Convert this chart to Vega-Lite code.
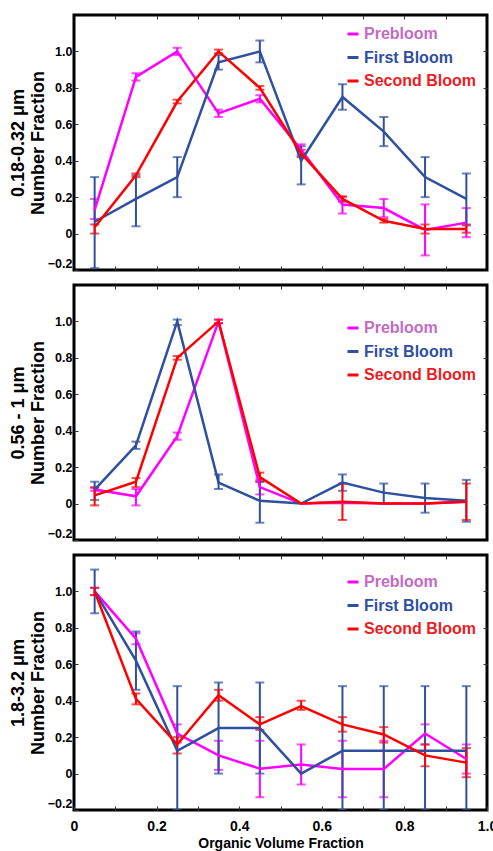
{
  "$schema": "https://vega.github.io/schema/vega-lite/v6.json",
  "background": "white",
  "padding": {"left": 7, "top": 13, "right": 0, "bottom": 0},
  "spacing": 11,
  "datasets": {
    "d": [
      {"p":1,"s":"Prebloom","x":0.05,"y":0.13,"lo":0.08,"hi":0.19},
      {"p":1,"s":"Prebloom","x":0.15,"y":0.86,"lo":0.84,"hi":0.88},
      {"p":1,"s":"Prebloom","x":0.25,"y":1.0,"lo":0.98,"hi":1.02},
      {"p":1,"s":"Prebloom","x":0.35,"y":0.66,"lo":0.64,"hi":0.68},
      {"p":1,"s":"Prebloom","x":0.45,"y":0.74,"lo":0.72,"hi":0.76},
      {"p":1,"s":"Prebloom","x":0.55,"y":0.46,"lo":0.43,"hi":0.49},
      {"p":1,"s":"Prebloom","x":0.65,"y":0.16,"lo":0.11,"hi":0.2},
      {"p":1,"s":"Prebloom","x":0.75,"y":0.14,"lo":0.09,"hi":0.19},
      {"p":1,"s":"Prebloom","x":0.85,"y":0.02,"lo":-0.12,"hi":0.16},
      {"p":1,"s":"Prebloom","x":0.95,"y":0.06,"lo":-0.02,"hi":0.14},
      {"p":1,"s":"First Bloom","x":0.05,"y":0.065,"lo":-0.19,"hi":0.31},
      {"p":1,"s":"First Bloom","x":0.15,"y":0.19,"lo":0.04,"hi":0.32},
      {"p":1,"s":"First Bloom","x":0.25,"y":0.31,"lo":0.2,"hi":0.42},
      {"p":1,"s":"First Bloom","x":0.35,"y":0.94,"lo":0.9,"hi":0.98},
      {"p":1,"s":"First Bloom","x":0.45,"y":1.0,"lo":0.94,"hi":1.06},
      {"p":1,"s":"First Bloom","x":0.55,"y":0.4,"lo":0.27,"hi":0.48},
      {"p":1,"s":"First Bloom","x":0.65,"y":0.75,"lo":0.68,"hi":0.82},
      {"p":1,"s":"First Bloom","x":0.75,"y":0.56,"lo":0.48,"hi":0.64},
      {"p":1,"s":"First Bloom","x":0.85,"y":0.31,"lo":0.2,"hi":0.42},
      {"p":1,"s":"First Bloom","x":0.95,"y":0.19,"lo":0.05,"hi":0.33},
      {"p":1,"s":"Second Bloom","x":0.05,"y":0.035,"lo":0.0,"hi":0.05},
      {"p":1,"s":"Second Bloom","x":0.15,"y":0.32,"lo":0.31,"hi":0.33},
      {"p":1,"s":"Second Bloom","x":0.25,"y":0.725,"lo":0.715,"hi":0.735},
      {"p":1,"s":"Second Bloom","x":0.35,"y":1.0,"lo":0.99,"hi":1.01},
      {"p":1,"s":"Second Bloom","x":0.45,"y":0.8,"lo":0.79,"hi":0.81},
      {"p":1,"s":"Second Bloom","x":0.55,"y":0.44,"lo":0.42,"hi":0.46},
      {"p":1,"s":"Second Bloom","x":0.65,"y":0.19,"lo":0.175,"hi":0.205},
      {"p":1,"s":"Second Bloom","x":0.75,"y":0.07,"lo":0.06,"hi":0.08},
      {"p":1,"s":"Second Bloom","x":0.85,"y":0.025,"lo":0.0,"hi":0.05},
      {"p":1,"s":"Second Bloom","x":0.95,"y":0.025,"lo":0.005,"hi":0.045},

      {"p":2,"s":"Prebloom","x":0.05,"y":0.077,"lo":0.07,"hi":0.085},
      {"p":2,"s":"Prebloom","x":0.15,"y":0.04,"lo":-0.01,"hi":0.08},
      {"p":2,"s":"Prebloom","x":0.25,"y":0.37,"lo":0.35,"hi":0.39},
      {"p":2,"s":"Prebloom","x":0.35,"y":1.0,"lo":0.99,"hi":1.01},
      {"p":2,"s":"Prebloom","x":0.45,"y":0.09,"lo":0.05,"hi":0.13},
      {"p":2,"s":"Prebloom","x":0.55,"y":0.0,"lo":null,"hi":null},
      {"p":2,"s":"Prebloom","x":0.65,"y":0.005,"lo":null,"hi":null},
      {"p":2,"s":"Prebloom","x":0.75,"y":0.0,"lo":null,"hi":null},
      {"p":2,"s":"Prebloom","x":0.85,"y":0.0,"lo":null,"hi":null},
      {"p":2,"s":"Prebloom","x":0.95,"y":0.01,"lo":null,"hi":null},
      {"p":2,"s":"First Bloom","x":0.05,"y":0.077,"lo":0.02,"hi":0.12},
      {"p":2,"s":"First Bloom","x":0.15,"y":0.32,"lo":0.3,"hi":0.34},
      {"p":2,"s":"First Bloom","x":0.25,"y":1.0,"lo":0.98,"hi":1.01},
      {"p":2,"s":"First Bloom","x":0.35,"y":0.115,"lo":0.08,"hi":0.16},
      {"p":2,"s":"First Bloom","x":0.45,"y":0.015,"lo":-0.105,"hi":0.12},
      {"p":2,"s":"First Bloom","x":0.55,"y":0.0,"lo":null,"hi":null},
      {"p":2,"s":"First Bloom","x":0.65,"y":0.115,"lo":0.07,"hi":0.16},
      {"p":2,"s":"First Bloom","x":0.75,"y":0.06,"lo":0.0,"hi":0.11},
      {"p":2,"s":"First Bloom","x":0.85,"y":0.03,"lo":-0.05,"hi":0.11},
      {"p":2,"s":"First Bloom","x":0.95,"y":0.015,"lo":-0.1,"hi":0.13},
      {"p":2,"s":"Second Bloom","x":0.05,"y":0.045,"lo":-0.01,"hi":0.09},
      {"p":2,"s":"Second Bloom","x":0.15,"y":0.12,"lo":0.09,"hi":0.14},
      {"p":2,"s":"Second Bloom","x":0.25,"y":0.8,"lo":0.79,"hi":0.81},
      {"p":2,"s":"Second Bloom","x":0.35,"y":1.0,"lo":0.99,"hi":1.01},
      {"p":2,"s":"Second Bloom","x":0.45,"y":0.145,"lo":0.12,"hi":0.17},
      {"p":2,"s":"Second Bloom","x":0.55,"y":0.0,"lo":null,"hi":null},
      {"p":2,"s":"Second Bloom","x":0.65,"y":0.01,"lo":-0.09,"hi":0.11},
      {"p":2,"s":"Second Bloom","x":0.75,"y":0.0,"lo":null,"hi":null},
      {"p":2,"s":"Second Bloom","x":0.85,"y":0.0,"lo":null,"hi":null},
      {"p":2,"s":"Second Bloom","x":0.95,"y":0.01,"lo":-0.09,"hi":0.11},

      {"p":3,"s":"Prebloom","x":0.05,"y":1.0,"lo":0.98,"hi":1.02},
      {"p":3,"s":"Prebloom","x":0.15,"y":0.74,"lo":0.71,"hi":0.77},
      {"p":3,"s":"Prebloom","x":0.25,"y":0.22,"lo":0.17,"hi":0.27},
      {"p":3,"s":"Prebloom","x":0.35,"y":0.1,"lo":0.02,"hi":0.18},
      {"p":3,"s":"Prebloom","x":0.45,"y":0.027,"lo":-0.13,"hi":0.18},
      {"p":3,"s":"Prebloom","x":0.55,"y":0.05,"lo":-0.06,"hi":0.16},
      {"p":3,"s":"Prebloom","x":0.65,"y":0.025,"lo":-0.13,"hi":0.18},
      {"p":3,"s":"Prebloom","x":0.75,"y":0.025,"lo":-0.13,"hi":0.18},
      {"p":3,"s":"Prebloom","x":0.85,"y":0.22,"lo":0.16,"hi":0.27},
      {"p":3,"s":"Prebloom","x":0.95,"y":0.08,"lo":0.0,"hi":0.16},
      {"p":3,"s":"First Bloom","x":0.05,"y":1.0,"lo":0.88,"hi":1.12},
      {"p":3,"s":"First Bloom","x":0.15,"y":0.62,"lo":0.46,"hi":0.78},
      {"p":3,"s":"First Bloom","x":0.25,"y":0.125,"lo":-0.2,"hi":0.48},
      {"p":3,"s":"First Bloom","x":0.35,"y":0.25,"lo":0.0,"hi":0.5},
      {"p":3,"s":"First Bloom","x":0.45,"y":0.25,"lo":0.0,"hi":0.5},
      {"p":3,"s":"First Bloom","x":0.55,"y":0.0,"lo":null,"hi":null},
      {"p":3,"s":"First Bloom","x":0.65,"y":0.125,"lo":-0.2,"hi":0.48},
      {"p":3,"s":"First Bloom","x":0.75,"y":0.125,"lo":-0.2,"hi":0.48},
      {"p":3,"s":"First Bloom","x":0.85,"y":0.125,"lo":-0.2,"hi":0.48},
      {"p":3,"s":"First Bloom","x":0.95,"y":0.125,"lo":-0.2,"hi":0.48},
      {"p":3,"s":"Second Bloom","x":0.05,"y":1.0,"lo":0.98,"hi":1.02},
      {"p":3,"s":"Second Bloom","x":0.15,"y":0.41,"lo":0.38,"hi":0.44},
      {"p":3,"s":"Second Bloom","x":0.25,"y":0.16,"lo":0.11,"hi":0.2},
      {"p":3,"s":"Second Bloom","x":0.35,"y":0.43,"lo":0.4,"hi":0.46},
      {"p":3,"s":"Second Bloom","x":0.45,"y":0.27,"lo":0.24,"hi":0.31},
      {"p":3,"s":"Second Bloom","x":0.55,"y":0.37,"lo":0.35,"hi":0.4},
      {"p":3,"s":"Second Bloom","x":0.65,"y":0.27,"lo":0.23,"hi":0.31},
      {"p":3,"s":"Second Bloom","x":0.75,"y":0.215,"lo":0.17,"hi":0.255},
      {"p":3,"s":"Second Bloom","x":0.85,"y":0.1,"lo":0.04,"hi":0.16},
      {"p":3,"s":"Second Bloom","x":0.95,"y":0.06,"lo":-0.02,"hi":0.14}
    ]
  },
  "resolve": {"legend": {"color": "independent"}},
  "vconcat": [
    {
      "width": 413, "height": 255,
      "data": {"name": "d"},
      "transform": [{"filter": "datum.p == 1"}],
      "layer": [
        {
          "mark": {"type": "errorbar", "ticks": true, "size": 9, "thickness": 2, "clip": true},
          "encoding": {
            "x": {"field": "x", "type": "quantitative", "scale": {"domain": [0, 1], "nice": false}, "axis": {"orient": "bottom", "values": [0.1,0.2,0.3,0.4,0.5,0.6,0.7,0.8,0.9], "labels": false, "title": null}},
            "y": {"field": "lo", "type": "quantitative", "scale": {"domain": [-0.2, 1.2], "nice": false, "zero": false}, "axis": {"orient": "left", "values": [-0.2,0,0.2,0.4,0.6,0.8,1.0], "labelExpr": "datum.value == 0 ? '0' : format(datum.value, '.1f')", "title": ["0.18-0.32 μm", "Number Fraction"]}},
            "y2": {"field": "hi"},
            "color": {"field": "s", "type": "nominal", "scale": {"domain": ["Prebloom", "First Bloom", "Second Bloom"], "range": ["#ff00ff", "#2f4f9f", "#ff0000"]},
              "legend": {"orient": "none", "legendX": 271, "legendY": 11, "title": null, "symbolType": "stroke", "symbolSize": 121, "symbolStrokeWidth": 3, "labelFont": "Liberation Sans", "labelFontSize": 16, "labelFontWeight": "bold", "rowPadding": 7.5, "labelOffset": 3, "labelLimit": 300,
                "encode": {"labels": {"update": {"fill": {"signal": "datum.value === 'Prebloom' ? '#c46ac4' : datum.value === 'First Bloom' ? '#2f4f9f' : '#ee1c24'"}}}}}}
          }
        },
        {
          "mark": {"type": "line", "strokeWidth": 2.5},
          "encoding": {
            "x": {"field": "x", "type": "quantitative", "scale": {"domain": [0, 1], "nice": false}, "axis": {"orient": "top", "values": [0.1,0.2,0.3,0.4,0.5,0.6,0.7,0.8,0.9], "labels": false, "title": null}},
            "y": {"field": "y", "type": "quantitative", "scale": {"domain": [-0.2, 1.2], "nice": false, "zero": false}, "axis": {"orient": "right", "values": [0,0.2,0.4,0.6,0.8,1.0], "labels": false, "title": null}},
            "color": {"field": "s", "type": "nominal", "scale": {"domain": ["Prebloom", "First Bloom", "Second Bloom"], "range": ["#ff00ff", "#2f4f9f", "#ff0000"]},
              "legend": {"orient": "none", "legendX": 271, "legendY": 11, "title": null, "symbolType": "stroke", "symbolSize": 121, "symbolStrokeWidth": 3, "labelFont": "Liberation Sans", "labelFontSize": 16, "labelFontWeight": "bold", "rowPadding": 7.5, "labelOffset": 3, "labelLimit": 300,
                "encode": {"labels": {"update": {"fill": {"signal": "datum.value === 'Prebloom' ? '#c46ac4' : datum.value === 'First Bloom' ? '#2f4f9f' : '#ee1c24'"}}}}}}
          }
        }
      ]
    },
    {
      "width": 413, "height": 255,
      "data": {"name": "d"},
      "transform": [{"filter": "datum.p == 2"}],
      "layer": [
        {
          "mark": {"type": "errorbar", "ticks": true, "size": 9, "thickness": 2, "clip": true},
          "encoding": {
            "x": {"field": "x", "type": "quantitative", "scale": {"domain": [0, 1], "nice": false}, "axis": {"orient": "bottom", "values": [0.1,0.2,0.3,0.4,0.5,0.6,0.7,0.8,0.9], "labels": false, "title": null}},
            "y": {"field": "lo", "type": "quantitative", "scale": {"domain": [-0.2, 1.2], "nice": false, "zero": false}, "axis": {"orient": "left", "values": [-0.2,0,0.2,0.4,0.6,0.8,1.0], "labelExpr": "datum.value == 0 ? '0' : format(datum.value, '.1f')", "title": ["0.56 - 1 μm", "Number Fraction"]}},
            "y2": {"field": "hi"},
            "color": {"field": "s", "type": "nominal", "scale": {"domain": ["Prebloom", "First Bloom", "Second Bloom"], "range": ["#ff00ff", "#2f4f9f", "#ff0000"]},
              "legend": {"orient": "none", "legendX": 271, "legendY": 35, "title": null, "symbolType": "stroke", "symbolSize": 121, "symbolStrokeWidth": 3, "labelFont": "Liberation Sans", "labelFontSize": 16, "labelFontWeight": "bold", "rowPadding": 7.5, "labelOffset": 3, "labelLimit": 300,
                "encode": {"labels": {"update": {"fill": {"signal": "datum.value === 'Prebloom' ? '#c46ac4' : datum.value === 'First Bloom' ? '#2f4f9f' : '#ee1c24'"}}}}}}
          }
        },
        {
          "mark": {"type": "line", "strokeWidth": 2.5},
          "encoding": {
            "x": {"field": "x", "type": "quantitative", "scale": {"domain": [0, 1], "nice": false}, "axis": {"orient": "top", "values": [0.1,0.2,0.3,0.4,0.5,0.6,0.7,0.8,0.9], "labels": false, "title": null}},
            "y": {"field": "y", "type": "quantitative", "scale": {"domain": [-0.2, 1.2], "nice": false, "zero": false}, "axis": {"orient": "right", "values": [0,0.2,0.4,0.6,0.8,1.0], "labels": false, "title": null}},
            "color": {"field": "s", "type": "nominal", "scale": {"domain": ["Prebloom", "First Bloom", "Second Bloom"], "range": ["#ff00ff", "#2f4f9f", "#ff0000"]},
              "legend": {"orient": "none", "legendX": 271, "legendY": 35, "title": null, "symbolType": "stroke", "symbolSize": 121, "symbolStrokeWidth": 3, "labelFont": "Liberation Sans", "labelFontSize": 16, "labelFontWeight": "bold", "rowPadding": 7.5, "labelOffset": 3, "labelLimit": 300,
                "encode": {"labels": {"update": {"fill": {"signal": "datum.value === 'Prebloom' ? '#c46ac4' : datum.value === 'First Bloom' ? '#2f4f9f' : '#ee1c24'"}}}}}}
          }
        }
      ]
    },
    {
      "width": 413, "height": 255,
      "data": {"name": "d"},
      "transform": [{"filter": "datum.p == 3"}],
      "layer": [
        {
          "mark": {"type": "errorbar", "ticks": true, "size": 9, "thickness": 2, "clip": true},
          "encoding": {
            "x": {"field": "x", "type": "quantitative", "scale": {"domain": [0, 1], "nice": false}, "axis": {"orient": "bottom", "values": [0,0.1,0.2,0.3,0.4,0.5,0.6,0.7,0.8,0.9,1.0], "labelExpr": "round(datum.value * 10) % 2 == 0 ? (datum.value == 0 ? '0' : format(datum.value, '.1f')) : ''", "labelFontSize": 14, "labelPadding": 13, "title": "Organic Volume Fraction", "titleFontSize": 14, "titlePadding": 3}},
            "y": {"field": "lo", "type": "quantitative", "scale": {"domain": [-0.2, 1.2], "nice": false, "zero": false}, "axis": {"orient": "left", "values": [-0.2,0,0.2,0.4,0.6,0.8,1.0], "labelExpr": "datum.value == 0 ? '0' : format(datum.value, '.1f')", "title": ["1.8-3.2 μm", "Number Fraction"]}},
            "y2": {"field": "hi"},
            "color": {"field": "s", "type": "nominal", "scale": {"domain": ["Prebloom", "First Bloom", "Second Bloom"], "range": ["#ff00ff", "#2f4f9f", "#ff0000"]},
              "legend": {"orient": "none", "legendX": 271, "legendY": 19, "title": null, "symbolType": "stroke", "symbolSize": 121, "symbolStrokeWidth": 3, "labelFont": "Liberation Sans", "labelFontSize": 16, "labelFontWeight": "bold", "rowPadding": 7.5, "labelOffset": 3, "labelLimit": 300,
                "encode": {"labels": {"update": {"fill": {"signal": "datum.value === 'Prebloom' ? '#c46ac4' : datum.value === 'First Bloom' ? '#2f4f9f' : '#ee1c24'"}}}}}}
          }
        },
        {
          "mark": {"type": "line", "strokeWidth": 2.5},
          "encoding": {
            "x": {"field": "x", "type": "quantitative", "scale": {"domain": [0, 1], "nice": false}, "axis": {"orient": "top", "values": [0.1,0.2,0.3,0.4,0.5,0.6,0.7,0.8,0.9], "labels": false, "title": null}},
            "y": {"field": "y", "type": "quantitative", "scale": {"domain": [-0.2, 1.2], "nice": false, "zero": false}, "axis": {"orient": "right", "values": [0,0.2,0.4,0.6,0.8,1.0], "labels": false, "title": null}},
            "color": {"field": "s", "type": "nominal", "scale": {"domain": ["Prebloom", "First Bloom", "Second Bloom"], "range": ["#ff00ff", "#2f4f9f", "#ff0000"]},
              "legend": {"orient": "none", "legendX": 271, "legendY": 19, "title": null, "symbolType": "stroke", "symbolSize": 121, "symbolStrokeWidth": 3, "labelFont": "Liberation Sans", "labelFontSize": 16, "labelFontWeight": "bold", "rowPadding": 7.5, "labelOffset": 3, "labelLimit": 300,
                "encode": {"labels": {"update": {"fill": {"signal": "datum.value === 'Prebloom' ? '#c46ac4' : datum.value === 'First Bloom' ? '#2f4f9f' : '#ee1c24'"}}}}}}
          }
        }
      ]
    }
  ],
  "config": {
    "view": {"stroke": "black", "strokeWidth": 3},
    "axis": {
      "grid": false, "domain": false, "tickColor": "#333333", "tickWidth": 1, "tickSize": -4,
      "minExtent": 0,
      "labelFont": "Liberation Sans", "labelFontWeight": "bold", "labelFontSize": 12.5, "labelColor": "black",
      "labelPadding": 6, "labelOverlap": false, "labelBound": false,
      "titleFont": "Liberation Sans", "titleFontWeight": "bold", "titleFontSize": 18, "titleColor": "black", "titleLineHeight": 20, "titlePadding": 0
    },
    "axisY": {"labelFlush": true},
    "axisX": {"labelFlush": false}
  }
}
